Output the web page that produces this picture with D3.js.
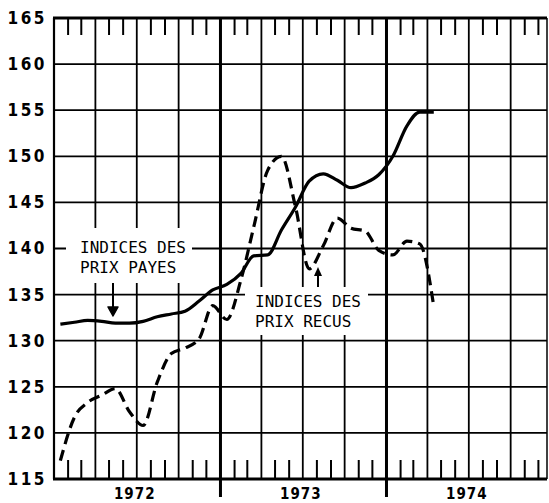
<!DOCTYPE html>
<html>
<head>
<meta charset="utf-8">
<script src="https://cdn.jsdelivr.net/npm/d3@7"></script>
<style>
  body { margin: 0; background: #fff; }
  svg { display: block; }
</style>
</head>
<body>
<div id="chart"></div>
<script>
// months plotted (mid-month), Jan 1972 .. Apr 1974
var months = ["1972-01","1972-02","1972-03","1972-04","1972-05","1972-06",
              "1972-07","1972-08","1972-09","1972-10","1972-11","1972-12",
              "1973-01","1973-02","1973-03","1973-04","1973-05","1973-06",
              "1973-07","1973-08","1973-09","1973-10","1973-11","1973-12",
              "1974-01","1974-02","1974-03","1974-04"];

// indices des prix payes (solid)
var prixPayes = [131.8, 132.0, 132.2, 132.1, 131.9, 131.9,
                 132.1, 132.6, 132.9, 133.2, 134.3, 135.5,
                 136.1, 137.3, 139.2, 139.3, 142.0, 144.5,
                 147.3, 148.1, 147.4, 146.6, 147.1, 148.0,
                 150.0, 153.3, 154.8, 154.8];

// indices des prix recus (dashed)
var prixRecus = [117.0, 121.7, 123.3, 124.1, 124.8, 122.3,
                 120.8, 125.5, 128.6, 129.2, 130.2, 133.8,
                 132.3, 136.6, 142.3, 148.5, 150.0, 144.5,
                 137.8, 140.3, 143.3, 142.2, 141.9, 139.8,
                 139.3, 140.8, 140.5, 133.7];

var yTicks = [115, 120, 125, 130, 135, 140, 145, 150, 155, 160, 165];
var years = ["1972", "1973", "1974"];
var labelPayes = ["INDICES DES", "PRIX PAYES"];
var labelRecus = ["INDICES DES", "PRIX RECUS"];

var width = 549, height = 503;
var margin = {top: 18, right: 2, bottom: 24, left: 54};
var plotRight = width - margin.right;
var plotBottom = height - margin.bottom;

var parseMonth = function(s) {
    var p = s.split("-");
    return new Date(Date.UTC(+p[0], +p[1] - 1, 15));
};
var dates = months.map(parseMonth);

var x = d3.scaleUtc()
    .domain([new Date(Date.UTC(1972, 0, 1)), new Date(Date.UTC(1975, 0, 1))])
    .range([margin.left, 552.5]);
var y = d3.scaleLinear()
    .domain([115, 165])
    .range([plotBottom, margin.top]);

var svg = d3.select("#chart").append("svg")
    .attr("width", width)
    .attr("height", height);

// horizontal grid
svg.append("g").selectAll("line")
    .data(yTicks.slice(1, -1))
    .enter().append("line")
    .attr("x1", margin.left).attr("x2", plotRight)
    .attr("y1", function(d) { return y(d); })
    .attr("y2", function(d) { return y(d); })
    .attr("stroke", "#000").attr("stroke-width", 1.8);

// vertical grid (quarters), year boundaries heavier and running below the axis
var quarters = x.ticks(d3.utcMonth.every(3)).filter(function(d) {
    return d > x.domain()[0] && x(d) < plotRight - 2;
});
svg.append("g").selectAll("line")
    .data(quarters)
    .enter().append("line")
    .attr("x1", function(d) { return x(d); })
    .attr("x2", function(d) { return x(d); })
    .attr("y1", margin.top)
    .attr("y2", function(d) { return d.getUTCMonth() === 0 ? plotBottom + 18 : plotBottom; })
    .attr("stroke", "#000")
    .attr("stroke-width", function(d) { return d.getUTCMonth() === 0 ? 3 : 1.8; });

// month ticks, top and bottom
var monthTicks = x.ticks(d3.utcMonth.every(1)).filter(function(d) {
    return d.getUTCMonth() % 3 !== 0 && x(d) < plotRight;
});
var mt = svg.append("g");
mt.selectAll(".top").data(monthTicks).enter().append("line")
    .attr("x1", function(d) { return x(d); }).attr("x2", function(d) { return x(d); })
    .attr("y1", margin.top).attr("y2", margin.top + 17)
    .attr("stroke", "#000").attr("stroke-width", 2);
mt.selectAll(".bot").data(monthTicks).enter().append("line")
    .attr("x1", function(d) { return x(d); }).attr("x2", function(d) { return x(d); })
    .attr("y1", plotBottom).attr("y2", plotBottom - 19)
    .attr("stroke", "#000").attr("stroke-width", 2);

// white patches behind the annotations
svg.append("rect").attr("x", 66).attr("y", 228).attr("width", 126).attr("height", 55).attr("fill", "#fff");
svg.append("rect").attr("x", 245).attr("y", 287).attr("width", 123).attr("height", 48).attr("fill", "#fff");

// frame
var frame = svg.append("g").attr("stroke", "#000");
frame.append("line").attr("x1", margin.left - 1).attr("x2", plotRight)
    .attr("y1", margin.top).attr("y2", margin.top).attr("stroke-width", 3);
frame.append("line").attr("x1", margin.left - 1).attr("x2", plotRight)
    .attr("y1", plotBottom).attr("y2", plotBottom).attr("stroke-width", 3);
frame.append("line").attr("x1", margin.left).attr("x2", margin.left)
    .attr("y1", margin.top).attr("y2", plotBottom).attr("stroke-width", 2.2);
frame.append("line").attr("x1", plotRight).attr("x2", plotRight)
    .attr("y1", margin.top).attr("y2", plotBottom).attr("stroke-width", 1.5);

// y labels
var yAxis = svg.append("g")
    .attr("transform", "translate(" + margin.left + ",0)")
    .call(d3.axisLeft(y).tickValues(yTicks).tickSize(0).tickPadding(7));
yAxis.select(".domain").remove();
yAxis.selectAll("text")
    .attr("font-family", "'DejaVu Sans Condensed', 'DejaVu Sans', sans-serif")
    .attr("font-weight", "bold")
    .attr("font-size", 17)
    .attr("letter-spacing", 2.5)
    .attr("fill", "#000");

// year labels
svg.append("g").selectAll("text")
    .data(years)
    .enter().append("text")
    .attr("x", function(d) { return x(new Date(Date.UTC(+d, 6, 1))) - 2; })
    .attr("y", 499)
    .attr("text-anchor", "middle")
    .attr("font-family", "'DejaVu Sans Condensed', 'DejaVu Sans', sans-serif")
    .attr("font-weight", "bold")
    .attr("font-size", 15)
    .attr("letter-spacing", 1)
    .text(function(d) { return d; });

// series
var line = d3.line()
    .x(function(d, i) { return x(dates[i]); })
    .y(function(d) { return y(d); })
    .curve(d3.curveMonotoneX);

svg.append("path").datum(prixPayes)
    .attr("d", line)
    .attr("fill", "none").attr("stroke", "#000")
    .attr("stroke-width", 3.2).attr("stroke-linejoin", "round");

svg.append("path").datum(prixRecus)
    .attr("d", line)
    .attr("fill", "none").attr("stroke", "#000")
    .attr("stroke-width", 3.2).attr("stroke-dasharray", "11,6");

// annotations
function drawLabel(lines, x0, y0) {
    svg.append("g").selectAll("text")
        .data(lines)
        .enter().append("text")
        .attr("x", x0)
        .attr("y", function(d, i) { return y0 + i * 19.5; })
        .attr("font-family", "'DejaVu Sans Mono', monospace")
        .attr("font-size", 16)
        .text(function(d) { return d; });
}
drawLabel(labelPayes, 80, 253);
drawLabel(labelRecus, 255, 307);

// arrows
svg.append("line").attr("x1", 113).attr("x2", 113).attr("y1", 283).attr("y2", 308)
    .attr("stroke", "#000").attr("stroke-width", 2);
svg.append("path").attr("d", "M108,307 L118,307 L113,316 Z").attr("fill", "#000")
    .attr("stroke", "#000").attr("stroke-width", 1.5).attr("stroke-linejoin", "round");
svg.append("line").attr("x1", 318).attr("x2", 318).attr("y1", 287).attr("y2", 274)
    .attr("stroke", "#000").attr("stroke-width", 2);
svg.append("path").attr("d", "M314,276 L322,276 L318,267 Z").attr("fill", "#000");
</script>
</body>
</html>
